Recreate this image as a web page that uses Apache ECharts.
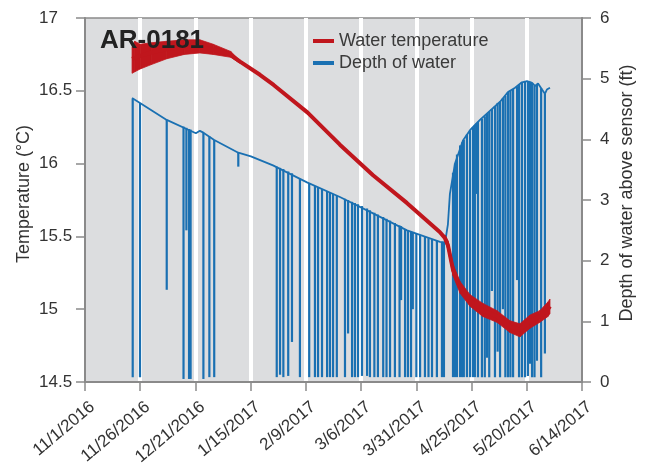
<!DOCTYPE html>
<html>
<head>
<meta charset="utf-8">
<script src="https://cdn.jsdelivr.net/npm/echarts@6/dist/echarts.min.js"></script>
<style>html,body{margin:0;padding:0;background:#fff;}#c{width:645px;height:464px;}</style>
</head>
<body>
<div id="c"></div>
<script>
// X axis: days since 11/1/2016
const tickLabels = ['11/1/2016','11/26/2016','12/21/2016','1/15/2017','2/9/2017','3/6/2017','3/31/2017','4/25/2017','5/20/2017','6/14/2017'];

// Water temperature (°C), centre line
const tempDays   = [21.3, 24.9, 31.7, 38.5, 45.3, 52.1, 58.8, 65.6, 70.2, 79.2, 85.4, 100.8, 115.4, 130.4, 145.7, 160.6, 162.9, 164.3, 166.6, 169.8, 174.3, 180.1, 186.5, 192.4, 196.9, 201.5, 205.9, 209.6, 210.5];
const tempValues = [16.72, 16.74, 16.77, 16.79, 16.80, 16.80, 16.78, 16.75, 16.70, 16.61, 16.54, 16.35, 16.13, 15.92, 15.73, 15.53, 15.49, 15.44, 15.27, 15.15, 15.06, 14.99, 14.95, 14.88, 14.86, 14.92, 14.95, 15.00, 15.02];

// Noisy temperature band (early and late periods)
const bandStartDays = [21.3, 22.5, 25, 30, 37, 45, 52, 58, 66, 70];
const bandStartLow  = [16.62, 16.63, 16.65, 16.68, 16.72, 16.75, 16.76, 16.75, 16.73, 16.69];
const bandStartHigh = [16.80, 16.84, 16.82, 16.83, 16.84, 16.85, 16.85, 16.82, 16.77, 16.71];
const bandEndDays = [162.9, 164.3, 166.6, 169.8, 174.3, 180.1, 186.5, 192.4, 196.9, 201.5, 205.9, 209.6, 210.5];
const bandEndLow  = [15.47, 15.41, 15.23, 15.11, 15.02, 14.95, 14.91, 14.84, 14.81, 14.87, 14.91, 14.95, 14.97];
const bandEndHigh = [15.51, 15.47, 15.31, 15.19, 15.10, 15.04, 14.99, 14.92, 14.90, 14.96, 14.99, 15.05, 15.07];

// Depth of water above sensor (ft)
const depthDays   = [21.3, 24.9, 37.0, 50.2, 52.0, 53.6, 58.5, 69.4, 75.1, 85.1, 100.5, 115.4, 130.4, 145.8, 160.7, 163.0, 164.3, 165.2, 167.5, 171.1, 174.3, 178.8, 183.3, 187.9, 191.5, 194.7, 197.8, 200.1, 202.4, 203.7, 205.1, 206.9, 208.2, 209.1, 210.5];
const depthValues = [4.68, 4.60, 4.32, 4.10, 4.14, 4.11, 3.99, 3.78, 3.72, 3.57, 3.29, 3.05, 2.78, 2.50, 2.31, 2.30, 2.60, 3.10, 3.60, 3.98, 4.15, 4.32, 4.47, 4.62, 4.78, 4.85, 4.94, 4.96, 4.93, 4.88, 4.92, 4.82, 4.75, 4.82, 4.85];

// Depth drop-outs: [day, top, bottom]
const depthSpikes = [
  [21.6,4.67,0.08],[24.9,4.60,0.08],[37.0,4.32,1.52],[44.6,4.21,0.05],[45.9,4.19,2.50],[47.1,4.17,0.05],[47.8,4.16,0.05],
  [53.6,4.11,0.05],[56.3,4.05,0.08],[58.5,3.99,0.08],[69.4,3.78,3.55],
  [86.8,3.55,0.08],[88.3,3.53,0.12],[89.8,3.51,0.08],[92.0,3.47,0.10],[93.7,3.44,0.66],[97.3,3.35,0.08],
  [101.5,3.27,0.08],[104.1,3.23,0.08],[105.5,3.21,0.08],[107.3,3.18,0.08],[109.6,3.14,0.08],[110.9,3.12,0.08],[112.3,3.10,0.08],[114.0,3.07,0.08],
  [117.7,3.02,0.08],[119.1,3.00,0.80],[120.9,2.97,0.08],[122.2,2.95,0.08],[123.6,2.93,0.08],[125.4,2.90,0.10],[127.7,2.86,0.10],
  [129.0,2.83,0.08],[131.0,2.79,0.08],[132.6,2.76,0.08],[135.0,2.72,0.08],[136.5,2.69,0.08],[138.1,2.66,0.08],[140.3,2.62,0.08],
  [142.4,2.58,0.08],[143.1,2.57,1.35],[144.9,2.52,0.08],[146.2,2.50,0.08],
  [147.6,2.48,0.08],[148.4,2.47,1.20],[150.0,2.44,0.08],[151.7,2.42,0.08],[153.9,2.39,0.08],[155.5,2.37,0.08],[157.1,2.35,0.08],
  [159.3,2.33,0.08],[161.6,2.31,0.08],[162.5,2.30,0.08],
  [166.6,3.45,0.08],[167.5,3.60,0.08],[168.4,3.75,0.08],[169.8,3.90,0.08],[170.7,3.95,0.08],[171.5,3.99,0.08],[172.9,4.08,0.08],
  [174.3,4.15,0.08],[175.6,4.20,0.08],[176.5,4.24,0.08],[177.3,4.27,3.10],
  [177.9,4.29,0.08],[179.7,4.34,0.08],[181.0,4.38,0.08],[182.0,4.42,0.40],[183.0,4.45,0.08],[184.2,4.50,1.50],[185.6,4.55,0.08],
  [186.8,4.60,0.50],[187.9,4.62,0.08],[189.2,4.68,1.20],[190.3,4.72,0.08],
  [191.5,4.78,0.08],[192.6,4.80,0.08],[193.8,4.83,0.08],[195.6,4.87,1.68],[196.5,4.90,0.08],[197.8,4.94,0.08],[199.2,4.95,0.08],
  [200.5,4.96,0.10],[201.5,4.95,0.30],[202.4,4.93,0.08],[203.5,4.88,0.08],[204.6,4.90,0.35],[206.5,4.84,0.08],[208.2,4.75,0.47]
];

const RED = '#c0161d';
const BLUE = '#1a70b2';
const AXIS = '#8a8a8a';
const TXT = '#333333';
const FONT = '"Liberation Sans", Arial, sans-serif';

const zip = (a, b) => a.map((v, i) => [v, b[i]]);
const triples = (d, lo, hi) => d.map((v, i) => [v, lo[i], hi[i]]);

// band polygon segments between consecutive samples, through the axis scales
function bandSeries(name, rows) {
  return {
    name: name, type: 'custom', yAxisIndex: 0, data: rows, silent: true, z: 3, clip: true,
    encode: {x: 0, y: [1, 2]},
    renderItem: (params, api) => {
      const i = params.dataIndex;
      if (i >= rows.length - 1) return null;
      const a = rows[i], b = rows[i + 1];
      const pts = [api.coord([a[0], a[1]]), api.coord([b[0], b[1]]), api.coord([b[0], b[2]]), api.coord([a[0], a[2]])];
      return {type: 'polygon', shape: {points: pts}, style: {fill: RED, stroke: RED, lineWidth: 0.8}};
    }
  };
}

const chart = echarts.init(document.getElementById('c'), null, {renderer: 'canvas'});
chart.setOption({
  animation: false,
  textStyle: {fontFamily: FONT},
  title: {
    text: 'AR-0181', left: 95, top: 23,
    textStyle: {fontSize: 26, fontWeight: 'bold', color: '#222', fontFamily: FONT}
  },
  legend: {
    data: ['Water temperature', 'Depth of water'],
    orient: 'vertical', left: 308, top: 27,
    icon: 'rect', itemWidth: 21, itemHeight: 4, itemGap: 4,
    textStyle: {fontSize: 18, color: '#3a3a3a', fontFamily: FONT, lineHeight: 18}
  },
  grid: {
    left: 85, right: 63, top: 18, bottom: 82, outerBoundsMode: 'none', containLabel: false,
    show: true, backgroundColor: '#dcdddf', borderColor: AXIS, borderWidth: 1.5
  },
  xAxis: {
    type: 'value', min: 0, max: 225, interval: 25,
    axisLine: {show: true, lineStyle: {color: AXIS, width: 2}},
    axisTick: {show: true, length: 9, lineStyle: {color: AXIS, width: 1.5}},
    splitLine: {show: true, showMinLine: false, showMaxLine: false, lineStyle: {color: '#ffffff', width: 4}},
    axisLabel: {
      rotate: 40, margin: 14, fontSize: 17, color: TXT, fontFamily: FONT,
      verticalAlign: 'top', padding: [3, 0, 0, 0],
      formatter: v => tickLabels[Math.round(v / 25)]
    }
  },
  yAxis: [{
    type: 'value', min: 14.5, max: 17, interval: 0.5, position: 'left',
    name: 'Temperature (°C)', nameLocation: 'middle', nameGap: 52, nameRotate: 90, nameMoveOverlap: false,
    nameTextStyle: {fontSize: 18, color: TXT, fontFamily: FONT, padding: [0, 0, 0, 12]},
    axisLine: {show: true, lineStyle: {color: AXIS, width: 2}},
    axisTick: {show: true, length: 9, lineStyle: {color: AXIS, width: 1.5}},
    splitLine: {show: false},
    axisLabel: {fontSize: 17, color: TXT, fontFamily: FONT, align: 'left', margin: 46}
  }, {
    type: 'value', min: 0, max: 6, interval: 1, position: 'right',
    name: 'Depth of water above sensor (ft)', nameLocation: 'middle', nameGap: 36, nameRotate: 90, nameMoveOverlap: false,
    nameTextStyle: {fontSize: 18, color: TXT, fontFamily: FONT, padding: [0, 0, 0, 14]},
    axisLine: {show: true, lineStyle: {color: AXIS, width: 2}},
    axisTick: {show: true, length: 9, lineStyle: {color: AXIS, width: 1.5}},
    splitLine: {show: false},
    axisLabel: {fontSize: 17, color: TXT, fontFamily: FONT, margin: 18}
  }],
  series: [
    {
      name: 'Depth of water', type: 'line', yAxisIndex: 1, color: BLUE,
      data: zip(depthDays, depthValues), showSymbol: false, symbol: 'none',
      lineStyle: {color: BLUE, width: 1.8}, z: 2
    },
    {
      name: 'depthSpikes', type: 'custom', yAxisIndex: 1, data: depthSpikes,
      encode: {x: 0, y: [1, 2]}, clip: true, z: 2, silent: true,
      renderItem: (params, api) => {
        const p1 = api.coord([api.value(0), api.value(1)]);
        const p2 = api.coord([api.value(0), api.value(2)]);
        return {type: 'line', shape: {x1: p1[0], y1: p1[1], x2: p2[0], y2: p2[1]},
                style: {stroke: BLUE, lineWidth: 2.2}};
      }
    },
    bandSeries('tempBandStart', triples(bandStartDays, bandStartLow, bandStartHigh)),
    bandSeries('tempBandEnd', triples(bandEndDays, bandEndLow, bandEndHigh)),
    {
      name: 'Water temperature', type: 'line', yAxisIndex: 0, color: RED,
      data: zip(tempDays, tempValues), showSymbol: false, symbol: 'none',
      lineStyle: {color: RED, width: 4}, z: 4
    }
  ]
});
</script>
</body>
</html>
